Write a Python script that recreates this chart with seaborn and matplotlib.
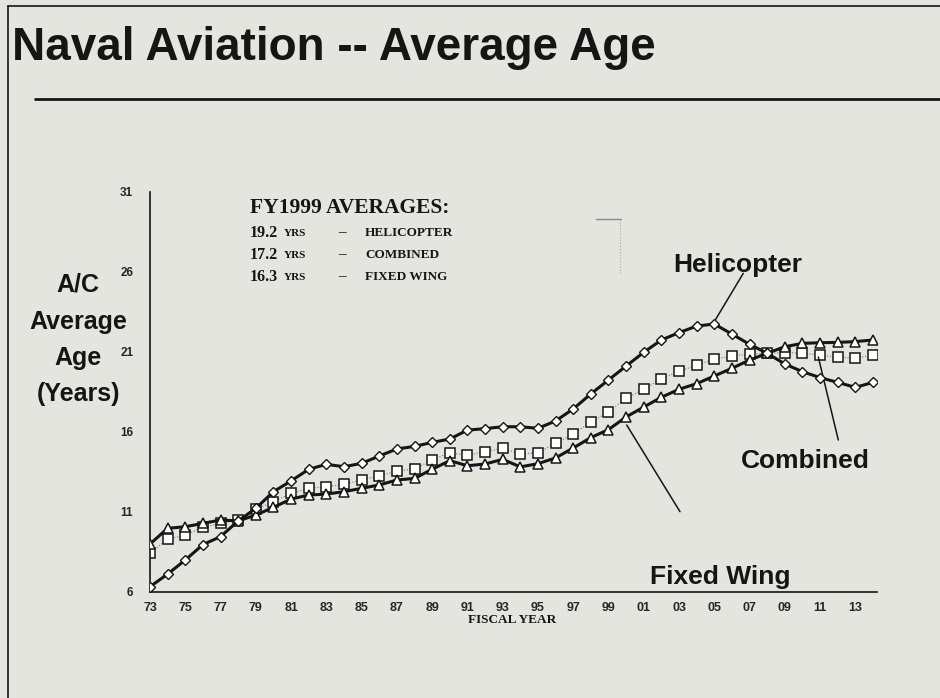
import matplotlib
matplotlib.use("Agg")
import matplotlib.pyplot as plt
import seaborn as sns
from matplotlib.lines import Line2D

# Fiscal years 1973 - 2014
years = list(range(1973, 2015))
helicopter = [6.33, 7.12, 8.0, 8.96, 9.46, 10.44, 11.23, 12.27, 12.94, 13.67, 13.98,
              13.83, 14.04, 14.5, 14.94, 15.1, 15.35, 15.56, 16.12, 16.21, 16.33, 16.33,
              16.23, 16.69, 17.44, 18.38, 19.25, 20.12, 20.98, 21.75, 22.21, 22.62, 22.75,
              22.12, 21.48, 20.92, 20.25, 19.77, 19.4, 19.1, 18.79, 19.1]
fixed_wing = [9.0, 9.98, 10.08, 10.29, 10.5, 10.44, 10.81, 11.29, 11.81, 12.06, 12.12,
              12.27, 12.48, 12.69, 13.0, 13.1, 13.67, 14.21, 13.89, 14.0, 14.29, 13.82,
              14.02, 14.38, 15.0, 15.65, 16.15, 16.94, 17.56, 18.17, 18.67, 19.02, 19.5,
              19.98, 20.5, 20.92, 21.33, 21.54, 21.58, 21.6, 21.65, 21.75]
combined = [8.42, 9.31, 9.56, 10.04, 10.29, 10.5, 11.17, 11.65, 12.17, 12.48, 12.58,
            12.73, 13.0, 13.25, 13.56, 13.69, 14.25, 14.71, 14.54, 14.77, 14.98, 14.62,
            14.71, 15.29, 15.88, 16.62, 17.25, 18.1, 18.67, 19.33, 19.79, 20.17, 20.55,
            20.75, 20.88, 20.92, 20.96, 20.92, 20.81, 20.67, 20.62, 20.81]
y_ticks = [6, 11, 16, 21, 26, 31]
x_tick_labels = ["73", "75", "77", "79", "81", "83", "85", "87", "89", "91", "93",
                 "95", "97", "99", "01", "03", "05", "07", "09", "11", "13"]

bg = "#e4e5df"
ink = "#151515"
W, H = 940, 698

sns.set_style("white")
plt.rcParams["font.family"] = ["Liberation Sans", "DejaVu Sans"]

fig = plt.figure(figsize=(9.4, 6.98), dpi=100, facecolor=bg)
ax = fig.add_axes([150 / W, (H - 592) / H, 726.5 / W, 400 / H])
ax.set_facecolor(bg)


def px(x, y):
    return x / W, 1 - y / H


sns.lineplot(x=years, y=combined, ax=ax, color="#777777", lw=0.8, linestyle=":",
             marker="s", markersize=6.5, markerfacecolor="white",
             markeredgecolor=ink, markeredgewidth=1.1, zorder=2)
sns.lineplot(x=years, y=fixed_wing, ax=ax, color=ink, lw=2.2,
             marker="^", markersize=7, markerfacecolor="white",
             markeredgecolor=ink, markeredgewidth=1.1, zorder=3)
sns.lineplot(x=years, y=helicopter, ax=ax, color=ink, lw=2.2,
             marker="D", markersize=5, markerfacecolor="white",
             markeredgecolor=ink, markeredgewidth=1.0, zorder=4)

ax.set_xlim(1973, 2014.2)
ax.set_ylim(6, 31)
ax.set_xticks(years, minor=True)
ax.set_xticks(years[::2])
ax.set_xticklabels(x_tick_labels, fontsize=9, fontweight="bold")
ax.set_yticks(y_ticks)
ax.set_yticklabels([str(v) for v in y_ticks], fontsize=8.5, fontweight="bold")
ax.tick_params(axis="x", which="both", direction="inout", length=9, width=1,
               color=ink, pad=3)
ax.tick_params(axis="y", direction="inout", length=12, width=1, color=ink, pad=6)
for s in ["top", "right"]:
    ax.spines[s].set_visible(False)
for s in ["left", "bottom"]:
    ax.spines[s].set_color(ink)
    ax.spines[s].set_linewidth(1.2)
ax.set_xlabel("")
ax.set_ylabel("")

# series labels and pointer lines
ax.add_line(Line2D([713.3 / W, 743.3 / W], [1 - 323.3 / H, 1 - 273.3 / H],
                   transform=fig.transFigure, color=ink, lw=1.1))
ax.add_line(Line2D([818.3 / W, 838.3 / W], [1 - 357 / H, 1 - 440 / H],
                   transform=fig.transFigure, color=ink, lw=1.1))
ax.add_line(Line2D([626.7 / W, 680 / W], [1 - 425 / H, 1 - 511.7 / H],
                   transform=fig.transFigure, color=ink, lw=1.1))
fig.text(*px(738, 265), "Helicopter", fontsize=19, fontweight="bold", color=ink,
         ha="center", va="center")
fig.text(*px(805, 461), "Combined", fontsize=19, fontweight="bold", color=ink,
         ha="center", va="center")
fig.text(*px(720, 577), "Fixed Wing", fontsize=19, fontweight="bold", color=ink,
         ha="center", va="center")

# FY1999 box of averages
serif = ["Liberation Serif", "DejaVu Serif"]
fig.text(*px(250, 208), "FY1999 AVERAGES:", fontsize=15.5, fontweight="bold",
         family=serif, color=ink, va="center")
rows = [("19.2", "HELICOPTER"), ("17.2", "COMBINED"), ("16.3", "FIXED WING")]
for k, (num, name) in enumerate(rows):
    yy = 233 + 22 * k
    fig.text(*px(250, yy), num, fontsize=11.5, fontweight="bold", family=serif,
             color=ink, va="center")
    fig.text(*px(284, yy + 1), "YRS", fontsize=8, fontweight="bold", family=serif,
             color=ink, va="center")
    fig.text(*px(338, yy), "\u2013", fontsize=11, fontweight="bold", family=serif,
             color=ink, va="center")
    fig.text(*px(365, yy), name, fontsize=9.5, fontweight="bold", family=serif,
             color=ink, va="center")

# y axis title
for txt, yy in [("A/C", 285), ("Average", 322), ("Age", 358), ("(Years)", 394)]:
    fig.text(*px(78, yy), txt, fontsize=18, fontweight="bold", color=ink,
             ha="center", va="center")

fig.text(*px(512, 620), "FISCAL YEAR", fontsize=9.5, fontweight="bold", family=serif,
         color=ink, ha="center", va="center")

# faint bracket near FY99
fig.add_artist(Line2D([596 / W, 621 / W], [1 - 219 / H, 1 - 219 / H],
                      transform=fig.transFigure, color="#888888", lw=1))
fig.add_artist(Line2D([620 / W, 620 / W], [1 - 219 / H, 1 - 275 / H],
                      transform=fig.transFigure, color="#aaaaaa", lw=0.8,
                      linestyle=":"))

# title and frame
fig.text(*px(12, 48), "Naval Aviation -- Average Age", fontsize=33, fontweight="bold",
         color=ink, va="center")
fig.add_artist(Line2D([35 / W, 1], [1 - 99 / H, 1 - 99 / H],
                      transform=fig.transFigure, color=ink, lw=2))
fig.add_artist(Line2D([8 / W, 8 / W], [0, 1 - 6 / H],
                      transform=fig.transFigure, color=ink, lw=1.2))
fig.add_artist(Line2D([8 / W, 1], [1 - 6 / H, 1 - 6 / H],
                      transform=fig.transFigure, color=ink, lw=1.2))

fig.savefig("out.png", dpi=100, facecolor=bg)
